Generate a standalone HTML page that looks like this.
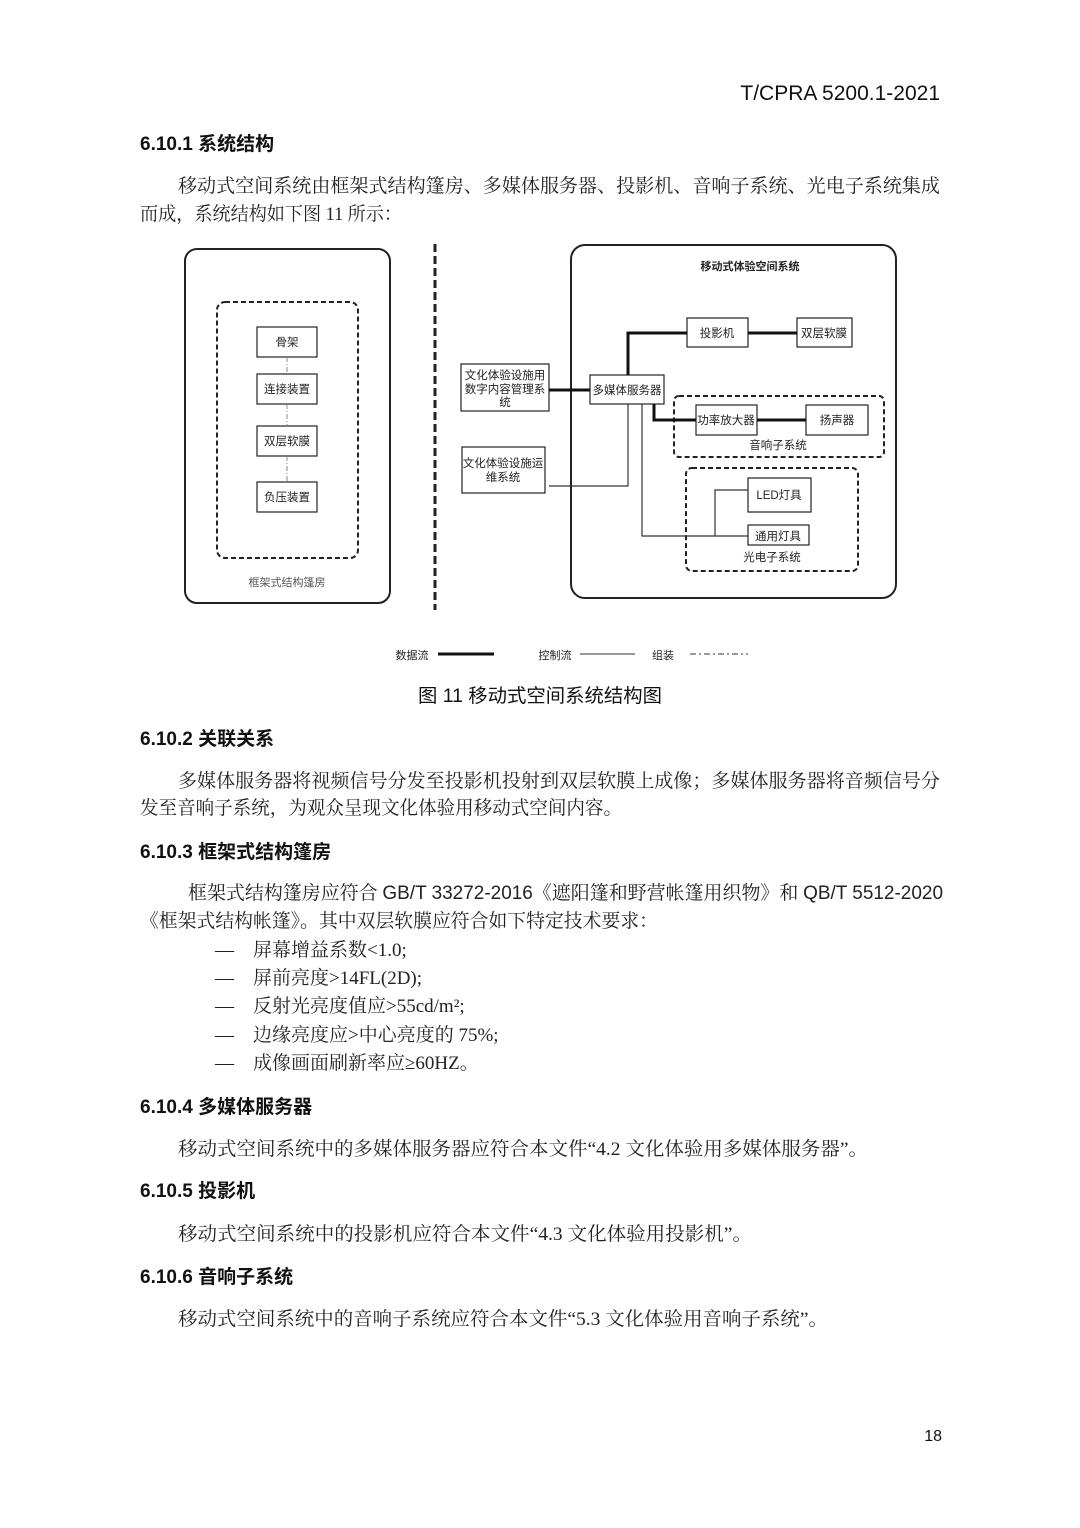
<!DOCTYPE html>
<html><head><meta charset="utf-8">
<style>
html,body{margin:0;padding:0;background:#fff;}
svg{display:block;}
.s{font-family:"Liberation Sans","Noto Sans CJK SC",sans-serif;}
.r{font-family:"Liberation Serif","Noto Serif CJK SC",serif;}
.h{font-family:"Liberation Sans","Noto Sans CJK SC",sans-serif;font-weight:bold;font-size:19px;fill:#111;}
.b{font-family:"Liberation Serif","Noto Serif CJK SC",serif;font-size:19px;fill:#222;}
.d{font-family:"Liberation Sans","Noto Sans CJK SC",sans-serif;font-size:11.5px;fill:#222;}
</style></head><body>
<svg width="1080" height="1528" viewBox="0 0 1080 1528" xmlns="http://www.w3.org/2000/svg">
<rect width="1080" height="1528" fill="#fff"/>
<text class="s" x="940" y="100" font-size="21" text-anchor="end" fill="#111">T/CPRA 5200.1-2021</text>

<text class="h" x="140" y="150">6.10.1 系统结构</text>
<text class="b" x="178" y="192" textLength="762" lengthAdjust="spacingAndGlyphs">移动式空间系统由框架式结构篷房、多媒体服务器、投影机、音响子系统、光电子系统集成</text>
<text class="b" x="140" y="220" textLength="262" lengthAdjust="spacingAndGlyphs">而成，系统结构如下图 11 所示：</text>

<g fill="none" stroke="#222">
<rect x="185" y="249" width="205" height="354" rx="12" stroke-width="2"/>
<rect x="217" y="302" width="141" height="256" rx="8" stroke-width="2" stroke-dasharray="5,3"/>
<rect x="257" y="327" width="60" height="30" stroke-width="1.2"/>
<rect x="257" y="374" width="60" height="30" stroke-width="1.2"/>
<rect x="257" y="426" width="60" height="30" stroke-width="1.2"/>
<rect x="257" y="482" width="60" height="30" stroke-width="1.2"/>
<g stroke="#888" stroke-width="1" stroke-dasharray="5,2,1,2">
<line x1="287" y1="357" x2="287" y2="374"/>
<line x1="287" y1="404" x2="287" y2="426"/>
<line x1="287" y1="456" x2="287" y2="482"/>
</g>
<line x1="435" y1="244" x2="435" y2="610" stroke-width="3" stroke-dasharray="8,4"/>
<rect x="571" y="245" width="325" height="353" rx="14" stroke-width="2"/>
<rect x="674" y="396" width="210" height="61" rx="5" stroke-width="2" stroke-dasharray="5,3"/>
<rect x="686" y="468" width="172" height="103" rx="6" stroke-width="2" stroke-dasharray="5,3"/>
<g stroke-width="1.2">
<rect x="687" y="318" width="61" height="29"/>
<rect x="797" y="318" width="55" height="29"/>
<rect x="590" y="375" width="74" height="29"/>
<rect x="461" y="364" width="88" height="47"/>
<rect x="462" y="447" width="83" height="46"/>
<rect x="696" y="405" width="61" height="30"/>
<rect x="806" y="405" width="62" height="30"/>
<rect x="748" y="478" width="63" height="34"/>
<rect x="748" y="525" width="61" height="20"/>
</g>
<g stroke="#111" stroke-width="3">
<line x1="549" y1="390" x2="590" y2="390"/>
<polyline points="628,375 628,333 687,333"/>
<line x1="748" y1="333" x2="797" y2="333"/>
<polyline points="654,404 654,420 696,420"/>
<line x1="757" y1="420" x2="806" y2="420"/>
</g>
<g stroke="#333" stroke-width="1.2">
<polyline points="549,486 628,486 628,404"/>
<polyline points="642,404 642,536 748,536"/>
<polyline points="715,536 715,490 748,490"/>
</g>
<line x1="438" y1="654" x2="494" y2="654" stroke="#111" stroke-width="3"/>
<line x1="580" y1="654" x2="635" y2="654" stroke="#333" stroke-width="1"/>
<line x1="690" y1="654" x2="748" y2="654" stroke="#333" stroke-width="1" stroke-dasharray="6,3,2,3"/>
</g>
<g class="d" text-anchor="middle">
<text x="287" y="346">骨架</text>
<text x="287" y="393">连接装置</text>
<text x="287" y="445">双层软膜</text>
<text x="287" y="501">负压装置</text>
<text x="287" y="586" fill="#555" font-size="11">框架式结构篷房</text>
<text x="750" y="270" font-weight="bold" font-size="11">移动式体验空间系统</text>
<text x="717" y="337">投影机</text>
<text x="824" y="337">双层软膜</text>
<text x="627" y="394">多媒体服务器</text>
<text x="505" y="379">文化体验设施用</text>
<text x="505" y="393">数字内容管理系</text>
<text x="505" y="406">统</text>
<text x="503" y="467">文化体验设施运</text>
<text x="503" y="481">维系统</text>
<text x="726" y="424">功率放大器</text>
<text x="837" y="424">扬声器</text>
<text x="778" y="449">音响子系统</text>
<text x="779" y="499">LED灯具</text>
<text x="778" y="540">通用灯具</text>
<text x="772" y="561">光电子系统</text>
<text x="412" y="659" font-size="11">数据流</text>
<text x="555" y="659" font-size="11">控制流</text>
<text x="663" y="659" font-size="11">组装</text>
</g>
<text class="s" x="540" y="702" font-size="19" text-anchor="middle" fill="#111" textLength="244" lengthAdjust="spacingAndGlyphs">图 11  移动式空间系统结构图</text>

<text class="h" x="140" y="745">6.10.2 关联关系</text>
<text class="b" x="178" y="787" textLength="762" lengthAdjust="spacingAndGlyphs">多媒体服务器将视频信号分发至投影机投射到双层软膜上成像；多媒体服务器将音频信号分</text>
<text class="b" x="140" y="814" textLength="482" lengthAdjust="spacingAndGlyphs">发至音响子系统，为观众呈现文化体验用移动式空间内容。</text>

<text class="h" x="140" y="858">6.10.3 框架式结构篷房</text>
<text class="b" x="188" y="899" textLength="755" lengthAdjust="spacingAndGlyphs">框架式结构篷房应符合 <tspan class="s">GB/T 33272-2016</tspan>《遮阳篷和野营帐篷用织物》和 <tspan class="s">QB/T 5512-2020</tspan></text>
<text class="b" x="140" y="927" textLength="518" lengthAdjust="spacingAndGlyphs">《框架式结构帐篷》。其中双层软膜应符合如下特定技术要求：</text>
<g class="b">
<text x="215" y="956">—</text><text x="253" y="956">屏幕增益系数&lt;1.0;</text>
<text x="215" y="984">—</text><text x="253" y="984">屏前亮度&gt;14FL(2D);</text>
<text x="215" y="1012">—</text><text x="253" y="1012">反射光亮度值应&gt;55cd/m²;</text>
<text x="215" y="1041">—</text><text x="253" y="1041">边缘亮度应&gt;中心亮度的 75%;</text>
<text x="215" y="1069">—</text><text x="253" y="1069">成像画面刷新率应≥60HZ。</text>
</g>

<text class="h" x="140" y="1113">6.10.4 多媒体服务器</text>
<text class="b" x="178" y="1155" textLength="690" lengthAdjust="spacingAndGlyphs">移动式空间系统中的多媒体服务器应符合本文件“4.2  文化体验用多媒体服务器”。</text>
<text class="h" x="140" y="1197">6.10.5 投影机</text>
<text class="b" x="178" y="1240" textLength="574" lengthAdjust="spacingAndGlyphs">移动式空间系统中的投影机应符合本文件“4.3  文化体验用投影机”。</text>
<text class="h" x="140" y="1283">6.10.6 音响子系统</text>
<text class="b" x="178" y="1325" textLength="650" lengthAdjust="spacingAndGlyphs">移动式空间系统中的音响子系统应符合本文件“5.3  文化体验用音响子系统”。</text>

<text class="s" x="942" y="1441" font-size="16" text-anchor="end" fill="#111">18</text>
</svg>
</body></html>
